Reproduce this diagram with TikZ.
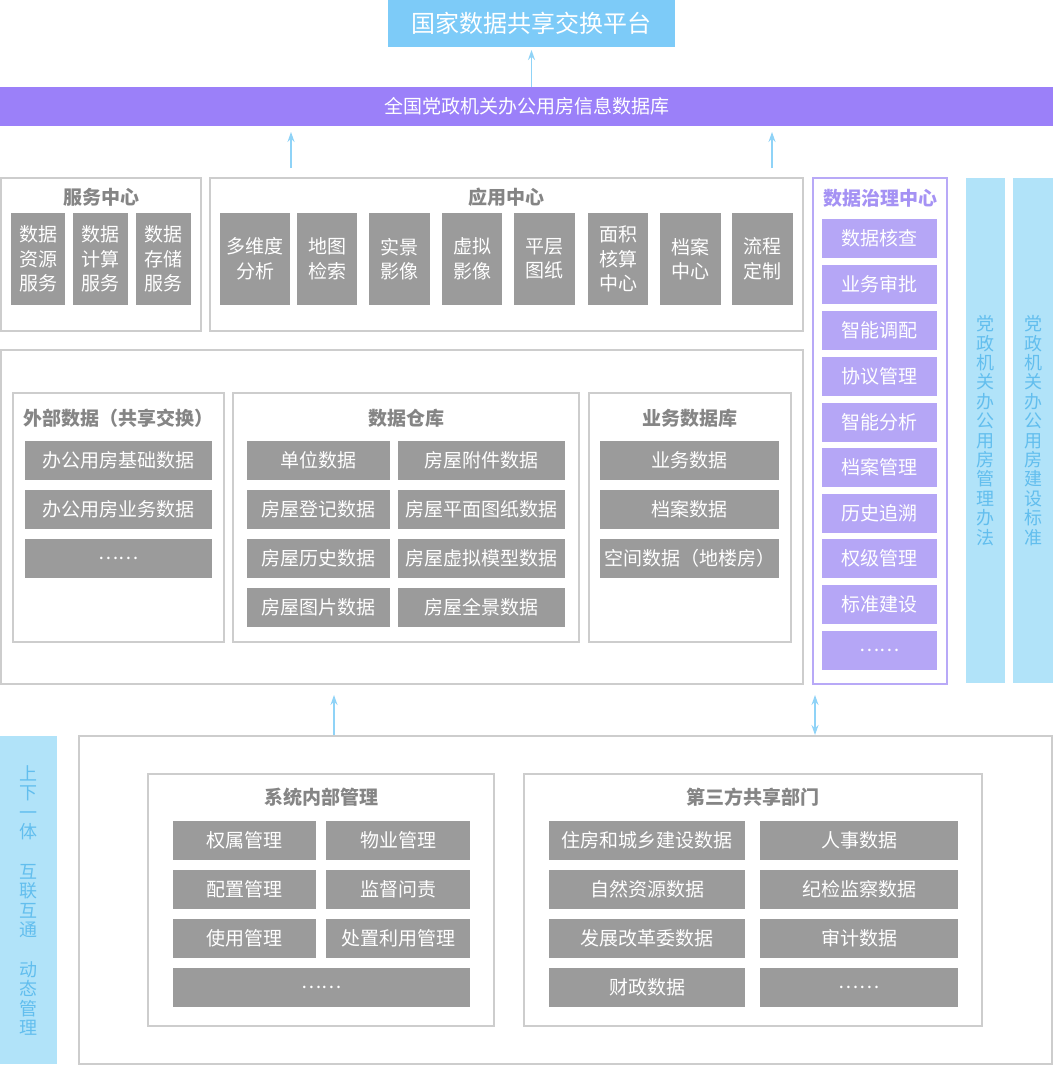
\documentclass[tikz,border=0pt]{standalone}
\usepackage{fontspec}
\setmainfont{Noto Sans CJK SC}
\usetikzlibrary{arrows.meta}
\definecolor{cgray}{HTML}{9B9B9B}
\definecolor{cline}{HTML}{CDCDCD}
\definecolor{ctitle}{HTML}{858585}
\definecolor{cpurple}{HTML}{9B80F9}
\definecolor{clpurple}{HTML}{B5A6F6}
\definecolor{cpline}{HTML}{B8A9F7}
\definecolor{cptitle}{HTML}{A592F4}
\definecolor{ctop}{HTML}{7DCBF8}
\definecolor{cbar}{HTML}{B1E3F9}
\definecolor{cbartext}{HTML}{62BEEE}
\definecolor{carrow}{HTML}{8FD3F7}
\newcommand\mybox[7]{\node[#1, minimum width={#5-#3}, minimum height={#6-#4}] (#2) at ({(#3+#5)/2},{(#4+#6)/2}) {#7};}
\tikzset{
  base/.style={shape=rectangle, inner sep=0pt, outer sep=0pt, align=center},
  gbox/.style={base, fill=cgray, text=white, font=\fontsize{19}{24.5}\selectfont},
  pitem/.style={base, fill=clpurple, text=white, font=\fontsize{19}{24.5}\selectfont},
  obox/.style={base, draw=cline, line width=1.5pt, fill=white},
  pobox/.style={base, draw=cpline, line width=1.5pt, fill=white},
  topbox/.style={base, fill=ctop, text=white, font=\fontsize{24}{28}\selectfont},
  pbar/.style={base, fill=cpurple, text=white, font=\fontsize{19}{22}\selectfont},
  bbar/.style={base, fill=cbar, text=cbartext, font=\fontsize{18}{19.4}\selectfont},
  ttl/.style={inner sep=0pt, text=ctitle, font=\fontsize{19}{21}\bfseries\selectfont},
  pttl/.style={inner sep=0pt, text=cptitle, font=\fontsize{19}{21}\bfseries\selectfont},
  arr/.style={draw=carrow, line width=1.5pt, -{Stealth[length=10pt,width=7pt]}},
  arrb/.style={draw=carrow, line width=1.5pt, {Stealth[length=10pt,width=7pt]}-{Stealth[length=10pt,width=7pt]}},
}
\begin{document}
\begin{tikzpicture}[x=1pt,y=-1pt]
\useasboundingbox (0,0) rectangle (1053,1065);
\fill[white] (0,0) rectangle (1053,1065);
% top
\mybox{topbox}{top}{388}{0}{675}{47}{国家数据共享交换平台}
\mybox{pbar}{db}{0}{87}{1053}{126}{全国党政机关办公用房信息数据库}
% service center
\mybox{obox}{svc}{1}{178}{201}{331}{}
\node[ttl] (svct) at (101,197) {服务中心};
\mybox{gbox}{s1}{11}{213}{65}{305}{数据\\资源\\服务}
\mybox{gbox}{s2}{73}{213}{128}{305}{数据\\计算\\服务}
\mybox{gbox}{s3}{136}{213}{191}{305}{数据\\存储\\服务}
% application center
\mybox{obox}{app}{210}{178}{803}{331}{}
\node[ttl] (appt) at (506.5,197) {应用中心};
\mybox{gbox}{a1}{220}{213}{290}{305}{多维度\\分析}
\mybox{gbox}{a2}{297}{213}{357}{305}{地图\\检索}
\mybox{gbox}{a3}{369}{213}{430}{305}{实景\\影像}
\mybox{gbox}{a4}{442}{213}{502}{305}{虚拟\\影像}
\mybox{gbox}{a5}{514}{213}{575}{305}{平层\\图纸}
\mybox{gbox}{a6}{588}{213}{648}{305}{面积\\核算\\中心}
\mybox{gbox}{a7}{660}{213}{721}{305}{档案\\中心}
\mybox{gbox}{a8}{732}{213}{793}{305}{流程\\定制}
% governance
\mybox{pobox}{gov}{813}{178}{947}{684}{}
\node[pttl] (govt) at (880,198) {数据治理中心};
\mybox{pitem}{g1}{822}{219}{937}{258}{数据核查}
\mybox{pitem}{g2}{822}{265}{937}{304}{业务审批}
\mybox{pitem}{g3}{822}{311}{937}{350}{智能调配}
\mybox{pitem}{g4}{822}{357}{937}{396}{协议管理}
\mybox{pitem}{g5}{822}{403}{937}{442}{智能分析}
\mybox{pitem}{g6}{822}{448}{937}{487}{档案管理}
\mybox{pitem}{g7}{822}{494}{937}{533}{历史追溯}
\mybox{pitem}{g8}{822}{539}{937}{578}{权级管理}
\mybox{pitem}{g9}{822}{585}{937}{624}{标准建设}
\mybox{pitem}{g10}{822}{631}{937}{670}{……}
% right bars
\mybox{bbar}{law1}{966}{178}{1005}{683}{党\\政\\机\\关\\办\\公\\用\\房\\管\\理\\办\\法}
\mybox{bbar}{law2}{1013}{178}{1053}{683}{党\\政\\机\\关\\办\\公\\用\\房\\建\\设\\标\\准}
% middle
\mybox{obox}{mid}{1}{350}{803}{684}{}
\mybox{obox}{ext}{13}{393}{224}{642}{}
\node[ttl] (extt) at (118.5,418) {外部数据（共享交换）};
\mybox{gbox}{e1}{25}{441}{212}{480}{办公用房基础数据}
\mybox{gbox}{e2}{25}{490}{212}{529}{办公用房业务数据}
\mybox{gbox}{e3}{25}{539}{212}{578}{……}
\mybox{obox}{wh}{233}{393}{579}{642}{}
\node[ttl] (wht) at (406,418) {数据仓库};
\mybox{gbox}{w1}{247}{441}{390}{480}{单位数据}
\mybox{gbox}{w2}{398}{441}{565}{480}{房屋附件数据}
\mybox{gbox}{w3}{247}{490}{390}{529}{房屋登记数据}
\mybox{gbox}{w4}{398}{490}{565}{529}{房屋平面图纸数据}
\mybox{gbox}{w5}{247}{539}{390}{578}{房屋历史数据}
\mybox{gbox}{w6}{398}{539}{565}{578}{房屋虚拟模型数据}
\mybox{gbox}{w7}{247}{588}{390}{627}{房屋图片数据}
\mybox{gbox}{w8}{398}{588}{565}{627}{房屋全景数据}
\mybox{obox}{biz}{589}{393}{791}{642}{}
\node[ttl] (bizt) at (690,418) {业务数据库};
\mybox{gbox}{b1}{600}{441}{779}{480}{业务数据}
\mybox{gbox}{b2}{600}{490}{779}{529}{档案数据}
\mybox{gbox}{b3}{600}{539}{779}{578}{空间数据（地楼房）}
% bottom
\mybox{bbar}{lbar}{0}{736}{57}{1064}{}
\node[base, text=cbartext, font=\fontsize{18}{19.6}\selectfont] (lbart) at (28.5,900.5) {上\\下\\一\\体\\[19.6pt]互\\联\\互\\通\\[19.6pt]动\\态\\管\\理};
\mybox{obox}{bot}{79}{736}{1052}{1064}{}
\mybox{obox}{sys}{148}{774}{494}{1026}{}
\node[ttl] (syst) at (321,797) {系统内部管理};
\mybox{gbox}{m1}{173}{821}{316}{860}{权属管理}
\mybox{gbox}{m2}{326}{821}{470}{860}{物业管理}
\mybox{gbox}{m3}{173}{870}{316}{909}{配置管理}
\mybox{gbox}{m4}{326}{870}{470}{909}{监督问责}
\mybox{gbox}{m5}{173}{919}{316}{958}{使用管理}
\mybox{gbox}{m6}{326}{919}{470}{958}{处置利用管理}
\mybox{gbox}{m7}{173}{968}{470}{1007}{……}
\mybox{obox}{thd}{524}{774}{982}{1026}{}
\node[ttl] (thdt) at (753,797) {第三方共享部门};
\mybox{gbox}{t1}{549}{821}{745}{860}{住房和城乡建设数据}
\mybox{gbox}{t2}{760}{821}{958}{860}{人事数据}
\mybox{gbox}{t3}{549}{870}{745}{909}{自然资源数据}
\mybox{gbox}{t4}{760}{870}{958}{909}{纪检监察数据}
\mybox{gbox}{t5}{549}{919}{745}{958}{发展改革委数据}
\mybox{gbox}{t6}{760}{919}{958}{958}{审计数据}
\mybox{gbox}{t7}{549}{968}{745}{1007}{财政数据}
\mybox{gbox}{t8}{760}{968}{958}{1007}{……}
% arrows
\coordinate (x1) at (291,0);
\coordinate (x2) at (772,0);
\coordinate (x3) at (334,0);
\coordinate (x4) at (815,0);
\draw[arr, shorten >=3pt] (top.south |- db.north) -- (top.south);
\draw[arr, shorten <=10pt, shorten >=6pt] (x1 |- app.north) -- (x1 |- db.south);
\draw[arr, shorten <=10pt, shorten >=6pt] (x2 |- app.north) -- (x2 |- db.south);
\draw[arr, shorten <=1pt, shorten >=11pt] (x3 |- bot.north) -- (x3 |- mid.south);
\draw[arrb, shorten <=1pt, shorten >=11pt] (x4 |- bot.north) -- (x4 |- gov.south);
\end{tikzpicture}
\end{document}
